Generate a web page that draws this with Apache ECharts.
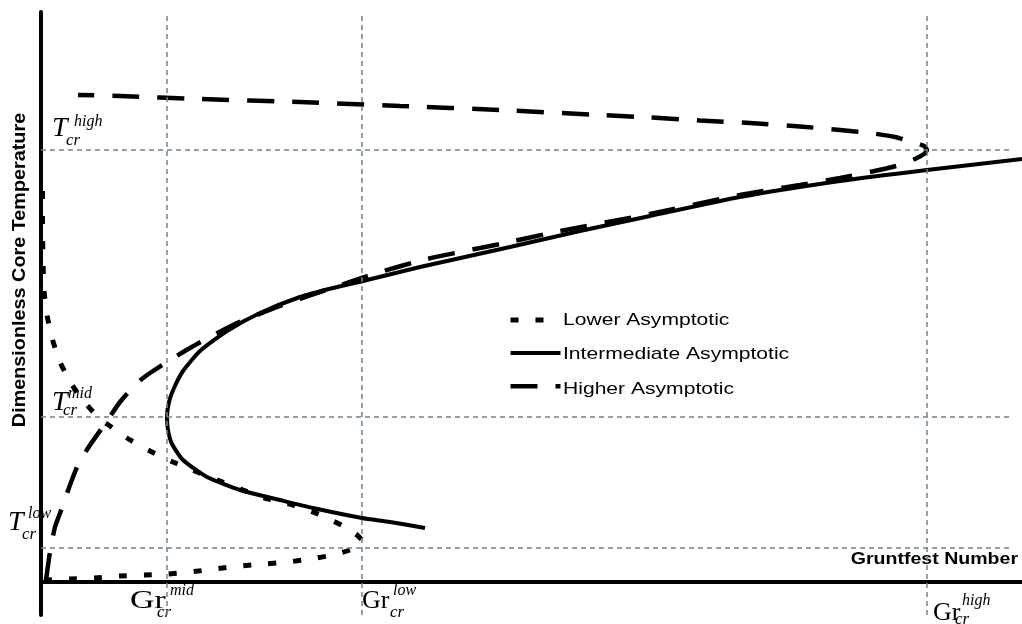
<!DOCTYPE html>
<html><head><meta charset="utf-8">
<script src="https://cdn.jsdelivr.net/npm/echarts@6/dist/echarts.min.js"></script>
<style>html,body{margin:0;padding:0;background:#fff}#c{width:1022px;height:624px}</style>
</head><body><div id="c"></div>
<script>
// ---- data (arbitrary units) ----
const lowerX = [3,29,54,79,104,127,149,174,199,224,247,269,292,309,317,321,316,304,277,252,224,202,179,156,132,109,86,69,59,46,31,19,11,6,3,2,1.5,1.5];
const lowerY = [2,3,4,6,7,8,10,13,16,18,20,23,27,32,36,41,47,55,68,77,84,92,101,110,120,131,144,156,163,177,197,220,244,267,292,322,362,402];
const interX = [384,349,321,272,239,199,166,142,131,127,126,128,133,142,159,186,219,259,292,322,379,469,539,609,699,799,886,981];
const interY = [54,60,64,74,82,92,105,122,138,152,165,180,194,211,231,251,269,285,294,301,315,335,351,366,385,401,412,423];
const higherX = [5,9,14,21,29,37,49,66,79,96,109,129,149,169,192,216,239,259,282,306,336,386,459,519,609,699,759,799,829,859,874,883,886,883,871,854,829,799,759,709,659,609,559,459,359,259,159,79,37];
const higherY = [2,30,55,74,97,117,137,161,180,199,209,222,234,245,257,267,276,283,291,299,309,323,338,351,368,387,397,404,410,417,423,428,432,436,440,445,449,452,455.5,459,461.5,464.5,467,472,476,480,483,486,487];
const seriesNames = ['Lower Asymptotic','Intermediate Asymptotic','Higher Asymptotic'];
const grValues = [126, 321, 886];
const grSup = ['mid','low','high'];
const tValues = [432, 165, 34];
const tSup = ['high','mid','low'];
const xMin = 0, xMax = 981, yMin = -33, yMax = 570, hLineEnd = 969;

// ---- styles / layout ----
const lineWidths = [5, 4, 4.5];
const lineTypes = [[8,17], 'solid', [27,18]];
const tLayout = [
  {T:[11,-21.5], sup:[33,-28], sub:[25,-9]},
  {T:[11,-14.5], sup:[27,-23], sub:[22,-6]},
  {T:[-33,-25], sup:[-13,-34], sub:[-19,-13]}
];
const grLayout = [
  {G:[-37,19.5], sup:[3,9], sub:[-10,31]},
  {G:[0,19.5], sup:[31,9], sub:[28,31]},
  {G:[6,31.5], sup:[35,19], sub:[28,38]}
];
const legendLeft = 508, legendTop = 313, legendItemH = 14, legendGap = 20.5, legendIconW = 50;

const zip = (xs, ys) => xs.map((x, i) => [x, ys[i]]);
const chart = echarts.init(document.getElementById('c'));
const gridLines = [
  ...grValues.map(v => [{coord:[v, yMin]}, {coord:[v, yMax]}]),
  ...tValues.map(v => [{coord:[xMin, v]}, {coord:[hLineEnd, v]}])
];
const lineSeries = (i, xs, ys) => ({
  name: seriesNames[i], type:'line', data: zip(xs, ys), symbol:'none', showSymbol:false, smooth:0.2,
  itemStyle:{color:'#000'}, lineStyle:{color:'#000', width:lineWidths[i], type:lineTypes[i], cap:'butt'}, z:3, silent:true
});
chart.setOption({
  animation:false,
  grid:{left:41, right:0, top:12, bottom:9},
  xAxis:{type:'value', min:xMin, max:xMax, axisLine:{onZero:true, lineStyle:{color:'#000', width:4}}, axisTick:{show:false}, axisLabel:{show:false}, splitLine:{show:false}},
  yAxis:{type:'value', min:yMin, max:yMax, axisLine:{show:true, onZero:false, lineStyle:{color:'#000', width:4}}, axisTick:{show:false}, axisLabel:{show:false}, splitLine:{show:false}},
  legend:{orient:'vertical', left:legendLeft, top:legendTop, padding:0, itemWidth:legendIconW, itemHeight:legendItemH, itemGap:legendGap,
    formatter:() => '', itemStyle:{opacity:0, color:'rgba(0,0,0,0)', borderWidth:0},
    textStyle:{fontSize:1}, selectedMode:false,
    data: seriesNames.map((name, i) => ({name, lineStyle:{width:lineWidths[i], color:'#000', type:lineTypes[i]}}))},
  series:[
    {name:'grid', type:'line', data:[], z:1, silent:true,
     markLine:{silent:true, symbol:'none', label:{show:false}, animation:false,
       lineStyle:{color:'#6e8787', width:1.5, type:[5,4]}, data:gridLines}},
    lineSeries(0, lowerX, lowerY),
    lineSeries(1, interX, interY),
    lineSeries(2, higherX, higherY)
  ]
});

const serif = 'Liberation Serif';
const txt = (x, y, text, font, extra) => Object.assign({type:'text', x, y, silent:true,
  style:{text, font, fill:'#000', textAlign:'left', align:'left', textVerticalAlign:'middle', verticalAlign:'middle'}}, extra || {});
const g = [];
tValues.forEach((v, i) => {
  const p = chart.convertToPixel({gridIndex:0}, [xMin, v]);
  const L = tLayout[i];
  g.push(txt(p[0]+L.T[0], p[1]+L.T[1], 'T', 'italic 28px "'+serif+'"'));
  g.push(txt(p[0]+L.sup[0], p[1]+L.sup[1], tSup[i], 'italic 16px "'+serif+'"'));
  g.push(txt(p[0]+L.sub[0], p[1]+L.sub[1], 'cr', 'italic 17px "'+serif+'"'));
});
grValues.forEach((v, i) => {
  const p = chart.convertToPixel({gridIndex:0}, [v, 0]);
  const L = grLayout[i];
  g.push(txt(p[0]+L.G[0], p[1]+L.G[1], 'Gr', '26px "'+serif+'"', i === 0 ? {scaleX:1.3} : {}));
  g.push(txt(p[0]+L.sup[0], p[1]+L.sup[1], grSup[i], 'italic 16px "'+serif+'"'));
  g.push(txt(p[0]+L.sub[0], p[1]+L.sub[1], 'cr', 'italic 17px "'+serif+'"'));
});
seriesNames.forEach((name, i) => {
  g.push(txt(legendLeft + legendIconW + 5, legendTop + legendItemH/2 + i*(legendItemH + legendGap), name,
    '17px "Liberation Sans"', {scaleX:1.24}));
});
g.push({type:'text', x:20, y:270, rotation:Math.PI/2, scaleX:1.1, silent:true,
  style:{text:'Dimensionless Core Temperature', font:'bold 18px "Liberation Sans"', fill:'#000', textAlign:'center', align:'center', textVerticalAlign:'middle', verticalAlign:'middle'}});
g.push({type:'text', x:1018, y:559, scaleX:1.15, silent:true,
  style:{text:'Gruntfest Number', font:'bold 17px "Liberation Sans"', fill:'#000', textAlign:'right', align:'right', textVerticalAlign:'middle', verticalAlign:'middle'}});
chart.setOption({graphic:g});
</script>
</body></html>
